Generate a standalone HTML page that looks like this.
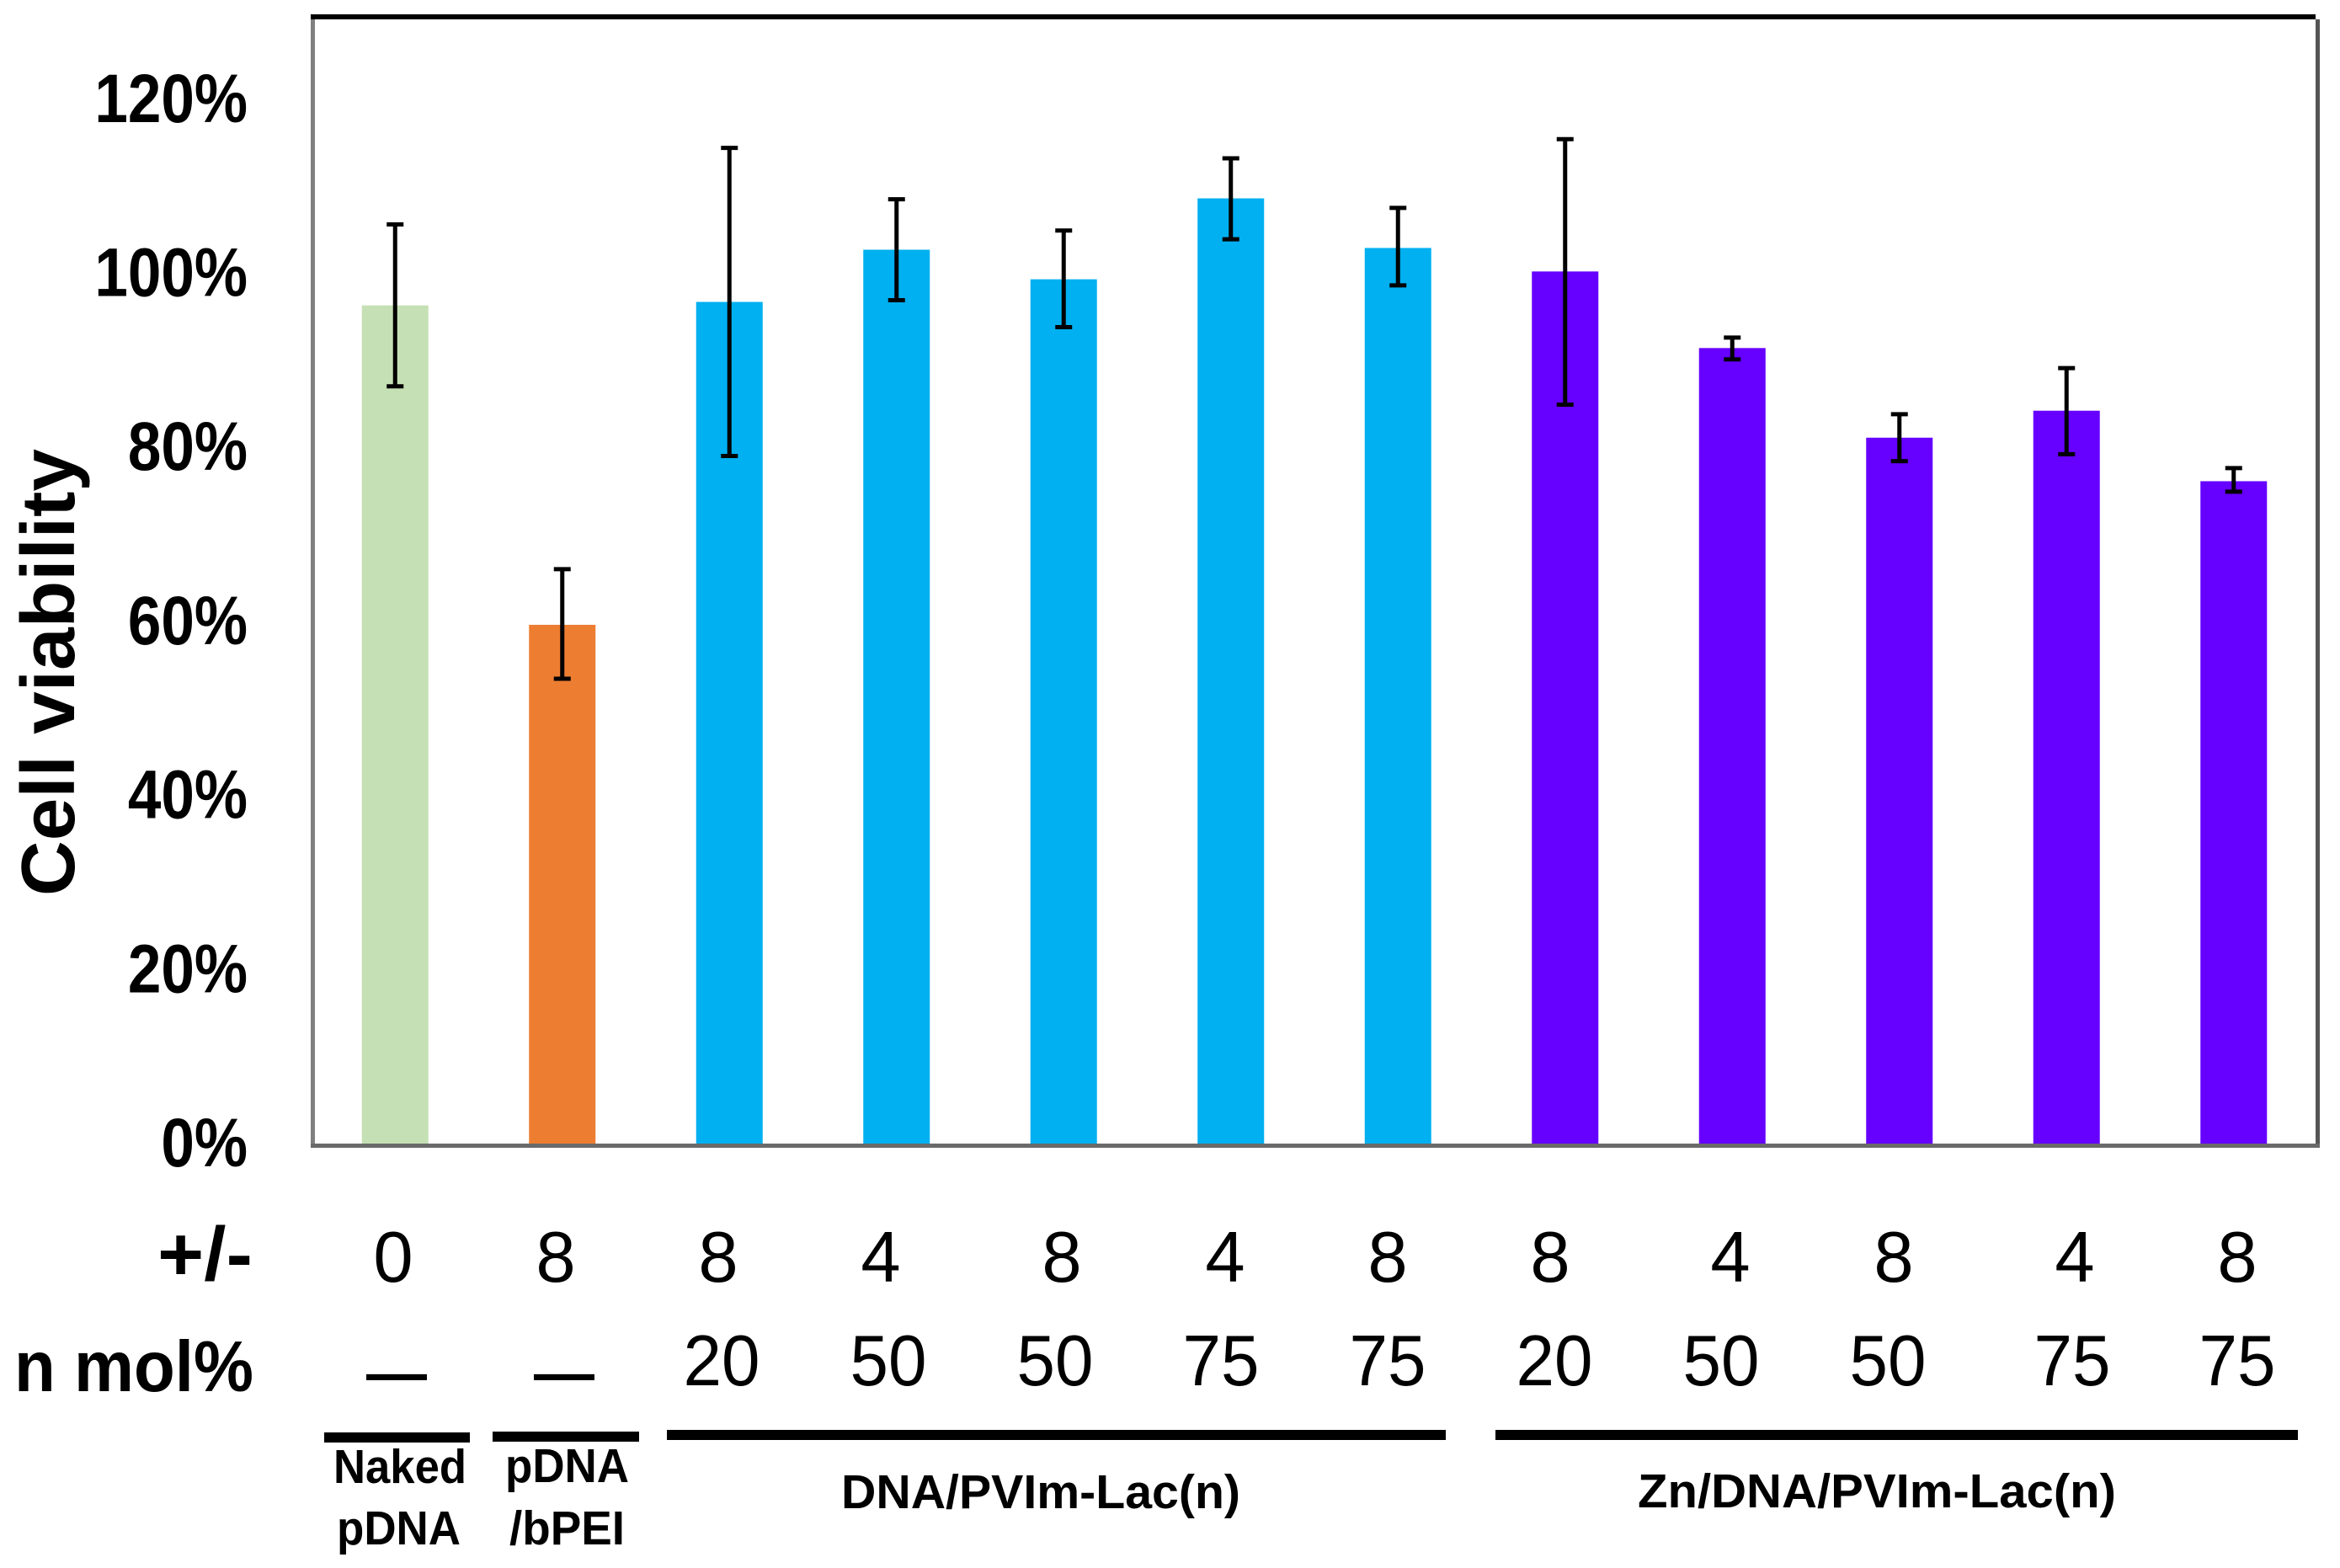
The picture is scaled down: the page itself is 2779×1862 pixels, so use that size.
<!DOCTYPE html>
<html lang="en">
<head>
<meta charset="utf-8">
<title>Cell viability chart</title>
<style>
html,body{margin:0;padding:0;background:#fff;}
svg{display:block;}
text{font-family:"Liberation Sans",sans-serif;fill:#000;}
.b{font-weight:700;}
.num{font-size:85px;text-anchor:middle;}
.dash{font-size:72px;font-weight:700;text-anchor:middle;}
.small{font-size:57px;font-weight:700;}
</style>
</head>
<body>
<svg id="chart" xmlns="http://www.w3.org/2000/svg" width="2779" height="1862" viewBox="0 0 2779 1862">
  <rect x="0" y="0" width="2779" height="1862" fill="#fff"/>
  <g id="bars"></g>
  <g id="errors"></g>
  <rect x="369" y="17" width="2381" height="6" fill="#000"/>
  <rect x="369" y="23" width="5" height="1340" fill="#808080"/>
  <rect x="2750" y="23" width="5" height="1340" fill="#555"/>
  <rect x="369" y="1358" width="2386" height="5" fill="#6a6a6a"/>
  <g id="yticks"></g>

  <text class="b" font-size="90" transform="translate(88,1064) rotate(-90)" textLength="531" lengthAdjust="spacingAndGlyphs">Cell viability</text>

  <text class="b" font-size="90" x="187" y="1520" textLength="113" lengthAdjust="spacingAndGlyphs">+/-</text>
  <text class="b" font-size="85" x="17" y="1652" textLength="284" lengthAdjust="spacingAndGlyphs">n mol%</text>

  <g>
    <text class="num" x="467" y="1522">0</text>
    <text class="num" x="660" y="1522">8</text>
    <text class="num" x="853" y="1522">8</text>
    <text class="num" x="1046" y="1522">4</text>
    <text class="num" x="1261" y="1522">8</text>
    <text class="num" x="1455" y="1522">4</text>
    <text class="num" x="1648" y="1522">8</text>
    <text class="num" x="1841" y="1522">8</text>
    <text class="num" x="2055" y="1522">4</text>
    <text class="num" x="2249" y="1522">8</text>
    <text class="num" x="2464" y="1522">4</text>
    <text class="num" x="2657" y="1522">8</text>
  </g>
  <g>
    <text class="dash" x="471" y="1655">—</text>
    <text class="dash" x="670" y="1655">—</text>
    <text class="num" x="857" y="1645" textLength="91" lengthAdjust="spacingAndGlyphs">20</text>
    <text class="num" x="1055" y="1645" textLength="91" lengthAdjust="spacingAndGlyphs">50</text>
    <text class="num" x="1253" y="1645" textLength="91" lengthAdjust="spacingAndGlyphs">50</text>
    <text class="num" x="1450" y="1645" textLength="91" lengthAdjust="spacingAndGlyphs">75</text>
    <text class="num" x="1648" y="1645" textLength="91" lengthAdjust="spacingAndGlyphs">75</text>
    <text class="num" x="1846" y="1645" textLength="91" lengthAdjust="spacingAndGlyphs">20</text>
    <text class="num" x="2044" y="1645" textLength="91" lengthAdjust="spacingAndGlyphs">50</text>
    <text class="num" x="2242" y="1645" textLength="91" lengthAdjust="spacingAndGlyphs">50</text>
    <text class="num" x="2461" y="1645" textLength="91" lengthAdjust="spacingAndGlyphs">75</text>
    <text class="num" x="2657" y="1645" textLength="91" lengthAdjust="spacingAndGlyphs">75</text>
  </g>

  <rect x="385" y="1701" width="173" height="12" fill="#000"/>
  <rect x="585" y="1700" width="174" height="12" fill="#000"/>
  <rect x="792" y="1698" width="925" height="12" fill="#000"/>
  <rect x="1776" y="1698" width="953" height="12" fill="#000"/>

  <text class="small" x="396" y="1761" textLength="158" lengthAdjust="spacingAndGlyphs">Naked</text>
  <text class="small" x="400" y="1834" textLength="147" lengthAdjust="spacingAndGlyphs">pDNA</text>
  <text class="small" x="600" y="1760" textLength="147" lengthAdjust="spacingAndGlyphs">pDNA</text>
  <text class="small" x="605" y="1834" textLength="137" lengthAdjust="spacingAndGlyphs">/bPEI</text>
  <text class="small" x="999" y="1791" textLength="474" lengthAdjust="spacingAndGlyphs">DNA/PVIm-Lac(n)</text>
  <text class="small" x="1945" y="1790" textLength="568" lengthAdjust="spacingAndGlyphs">Zn/DNA/PVIm-Lac(n)</text>
</svg>
<script>
const categories = ["Naked pDNA","pDNA/bPEI","DNA 8/20","DNA 4/50","DNA 8/50","DNA 4/75","DNA 8/75","Zn 8/20","Zn 4/50","Zn 8/50","Zn 4/75","Zn 8/75"];
const viability = [96.5,59.8,96.9,102.9,99.5,108.8,103.1,100.4,91.6,81.3,84.4,76.3];
const errorUpper = [105.8,66.2,114.6,108.7,105.1,113.4,107.7,115.6,92.8,84,89.3,77.8];
const errorLower = [87.2,53.6,79.2,97.1,94,104.1,98.8,85.1,90.3,78.6,79.4,75.1];
const groups = ["naked","bpei","dna","dna","dna","dna","dna","zn","zn","zn","zn","zn"];
const yTickValues = [0,20,40,60,80,100,120];

const NS = "http://www.w3.org/2000/svg";
const groupColor = {naked:"#C5E0B4", bpei:"#ED7D31", dna:"#00B0F0", zn:"#6600FF"};
const plotLeft = 370, plotRight = 2752, plotBottom = 1360, pxPerUnit = 10.335;
const BAR_WIDTH = 79, CAP_HALF = 10;
function xScale(i){ return plotLeft + (i + 0.5) * (plotRight - plotLeft) / categories.length; }
function yScale(v){ return plotBottom - v * pxPerUnit; }

const barsG = document.getElementById("bars");
const errG = document.getElementById("errors");
const tickG = document.getElementById("yticks");

categories.forEach(function(cat, i){
  const cx = xScale(i);
  const bar = document.createElementNS(NS, "rect");
  
  
  bar.setAttribute("x", cx - BAR_WIDTH / 2);
  bar.setAttribute("y", yScale(viability[i]));
  bar.setAttribute("width", BAR_WIDTH);
  bar.setAttribute("height", plotBottom - yScale(viability[i]));
  bar.setAttribute("fill", groupColor[groups[i]]);
  barsG.appendChild(bar);

  const err = document.createElementNS(NS, "path");
  
  
  const yt = yScale(errorUpper[i]), yb = yScale(errorLower[i]);
  err.setAttribute("d",
    "M" + cx + " " + yt + "V" + yb +
    "M" + (cx - CAP_HALF) + " " + yt + "H" + (cx + CAP_HALF) +
    "M" + (cx - CAP_HALF) + " " + yb + "H" + (cx + CAP_HALF));
  err.setAttribute("stroke", "#000");
  err.setAttribute("stroke-width", "5");
  err.setAttribute("fill", "none");
  errG.appendChild(err);
});

yTickValues.forEach(function(v){
  const t = document.createElementNS(NS, "text");
  
  
  t.setAttribute("x", 294);
  t.setAttribute("y", yScale(v) + 25);
  t.setAttribute("font-size", "82");
  t.setAttribute("font-weight", "700");
  t.setAttribute("text-anchor", "end");
  t.textContent = v + "%";
  tickG.appendChild(t);
  const natural = t.getComputedTextLength();
  t.setAttribute("textLength", natural * 0.866);
  t.setAttribute("lengthAdjust", "spacingAndGlyphs");
});
</script>
</body>
</html>
